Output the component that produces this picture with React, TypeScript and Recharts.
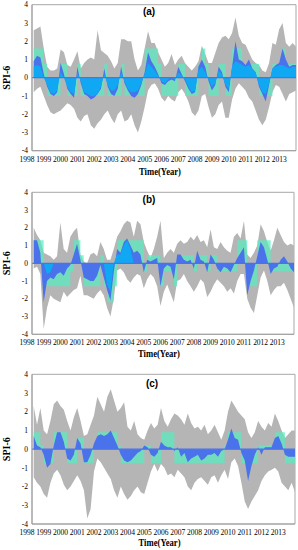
import React from 'react';
import { ComposedChart, Area, XAxis, YAxis, ReferenceLine, ReferenceArea } from 'recharts';

// time axis (decimal year), every 0.2 yr
const TIMES = [
  1998.4, 1998.6, 1998.8, 1999.0, 1999.2, 1999.4, 1999.6, 1999.8, 2000.0, 2000.2,
  2000.4, 2000.6, 2000.8, 2001.0, 2001.2, 2001.4, 2001.6, 2001.8, 2002.0, 2002.2,
  2002.4, 2002.6, 2002.8, 2003.0, 2003.2, 2003.4, 2003.6, 2003.8, 2004.0, 2004.2,
  2004.4, 2004.6, 2004.8, 2005.0, 2005.2, 2005.4, 2005.6, 2005.8, 2006.0, 2006.2,
  2006.4, 2006.6, 2006.8, 2007.0, 2007.2, 2007.4, 2007.6, 2007.8, 2008.0, 2008.2,
  2008.4, 2008.6, 2008.8, 2009.0, 2009.2, 2009.4, 2009.6, 2009.8, 2010.0, 2010.2,
  2010.4, 2010.6, 2010.8, 2011.0, 2011.2, 2011.4, 2011.6, 2011.8, 2012.0, 2012.2,
  2012.4, 2012.6, 2012.8, 2013.0, 2013.2, 2013.4, 2013.6, 2013.8, 2014.0,
];
const YEAR_TICKS = [1998, 1999, 2000, 2001, 2002, 2003, 2004, 2005, 2006, 2007, 2008, 2009, 2010, 2011, 2012, 2013];
const SPI_TICKS = [-4, -3, -2, -1, 0, 1, 2, 3, 4];

// ---------- panel (a) ----------
const A_MAX = [2.6, 2.7, 2.8, 1.6, 0.6, 0.4, 0.4, 0.5, 1.55, 1.4, 0.7, 0.6, 1.0, 1.45, 0.5, 0.8, 1.0, 1.1, 1.0, 2.6, 1.5, 1.35, 1.2, 0.9, 0.5, 0.8, 2.1, 2.1, 2.0, 2.0, 1.0, 0.4, 0.7, 1.6, 2.55, 1.9, 1.9, 1.4, 1.0, 0.6, 0.8, 1.3, 0.7, 1.0, 1.2, 0.8, 0.6, 0.4, 0.6, 0.9, 1.75, 1.3, 0.8, 0.8, 1.35, 1.9, 2.2, 2.3, 2.1, 2.45, 3.3, 2.3, 1.9, 1.8, 1.4, 1.0, 0.8, 0.7, 0.4, 0.3, 0.8, 1.9, 1.8, 2.65, 3.0, 1.9, 1.7, 1.9, 1.7];
const A_MIN = [-0.8, -0.6, -0.5, -1.0, -1.5, -1.9, -2.0, -1.9, -1.8, -1.6, -1.4, -1.5, -1.7, -2.2, -2.4, -2.1, -2.0, -2.6, -2.8, -2.5, -2.3, -2.0, -1.8, -2.2, -2.5, -2.0, -1.8, -2.4, -2.3, -2.0, -2.6, -3.0, -2.4, -1.6, -0.7, -0.4, -0.3, -0.6, -1.1, -1.3, -1.0, -1.2, -1.3, -0.8, -0.6, -0.9, -1.3, -1.9, -2.1, -1.8, -1.0, -0.9, -1.6, -2.2, -2.0, -1.5, -1.3, -2.2, -2.2, -1.2, -0.6, -0.3, -0.5, -0.7, -1.1, -1.3, -1.8, -2.3, -2.6, -2.3, -1.6, -0.8, -0.4, -0.5, -0.9, -1.3, -0.9, -0.8, -0.7];
const A_MEAN = [0.9, 1.2, 1.1, 0.2, -0.5, -0.9, -1.0, -0.8, 0.8, 0.2, -0.6, -0.9, -1.1, 0.6, -0.3, -0.9, -1.0, -1.2, -1.1, -0.9, -0.6, 0.5, -0.5, -0.9, -1.0, -0.6, 0.6, -0.3, -0.7, -1.0, -1.1, -0.9, -0.4, 0.3, 1.4, 0.9, 0.6, 0.2, -0.3, -0.4, -0.2, -0.1, -0.2, 0.6, 0.2, -0.2, -0.6, -0.9, -0.8, 0.6, 1.0, 0.6, -0.2, -0.7, -0.4, 0.6, 0.3, -0.5, -0.8, 0.6, 2.0, 1.0, 0.9, 0.7, 1.0, 0.5, 0.3, -0.5, -0.9, -1.3, -0.4, 0.5, 0.7, 0.8, 1.6, 1.0, 0.6, 0.7, 0.7];
const A_MEDIAN = [0.6, 0.7, 0.6, 0, -0.4, -0.8, -0.9, -0.7, 0.3, 0, -0.5, -0.8, -0.9, 0.3, -0.2, -0.8, -0.9, -1.0, -1.0, -0.9, -0.5, 0.2, -0.4, -0.7, -0.7, -0.4, 0.3, -0.2, -0.6, -0.8, -0.8, -0.7, -0.3, 0.2, 0.8, 0.6, 0.4, 0.1, -0.2, -0.3, -0.1, 0, -0.1, 0.3, 0.1, -0.1, -0.5, -0.8, -0.7, 0.4, 0.6, 0.3, -0.1, -0.5, -0.3, 0.4, 0.2, -0.4, -0.6, 0.6, 0.9, 0.8, 0.7, 0.6, 0.7, 0.5, 0.3, -0.4, -0.8, -0.9, -0.3, 0.5, 0.6, 0.7, 0.7, 0.6, 0.5, 0.6, 0.6];
const A_CLASS = [1.6, 1.6, 1.6, 0.75, -1.0, -1.0, -1.0, -1.0, 0.75, 0.75, -1.0, -1.0, -1.0, 0.75, -1.0, -1.0, -1.0, -1.0, -1.0, -1.0, -1.0, 0.75, -1.0, -1.0, -1.0, -1.0, 0.75, -1.0, -1.0, -1.0, -1.0, -1.0, -1.0, 1.6, 1.6, 1.6, 1.6, 0.75, -1.0, -1.0, -1.0, -1.0, -1.0, 0.75, 0.75, -1.0, -1.0, -1.0, -1.0, 0.75, 1.6, 0.75, -1.0, -1.0, -1.0, 0.75, 0.75, -1.0, -1.0, 1.6, 1.6, 1.6, 0.75, 0.75, 0.75, 0.75, 0.75, -1.0, -1.0, -1.0, -1.0, 0.75, 0.75, 0.75, 1.6, 0.75, 0.75, 0.75, 0.75];

// ---------- panel (b) ----------
const B_MAX = [2.0, 1.6, 1.3, 0.6, 0.5, 0.4, 0.2, 0.4, 2.3, 0.8, 0.6, 1.5, 1.8, 2.0, 0.5, 0.1, 0.0, 0.5, 0.6, 0.4, 1.2, 0.8, 0.2, 0.2, 0.8, 1.5, 1.8, 2.2, 2.4, 2.3, 1.5, 2.4, 2.2, 1.2, 0.7, 0.3, 0.8, 1.5, 2.4, 0.3, 0.6, 0.8, 0.6, 1.1, 1.3, 1.1, 1.2, 1.5, 1.3, 1.6, 1.2, 1.3, 0.9, 1.9, 0.9, 0.8, 1.2, 0.9, 0.7, 0.6, 1.5, 1.7, 1.4, 2.4, 0.5, 0.3, 0.6, 1.0, 2.2, 1.8, 1.2, 0.7, 1.3, 2.0, 1.6, 1.2, 1.0, 1.1, 1.0];
const B_MIN = [-0.3, -0.2, -0.6, -3.7, -2.5, -1.8, -2.0, -2.1, -2.2, -1.6, -1.9, -1.7, -1.5, -1.4, -0.7, -1.8, -1.8, -1.9, -2.0, -1.7, -1.5, -1.8, -2.5, -3.0, -2.0, -0.4, -0.3, -0.5, -0.9, -1.1, -0.8, -0.6, -0.7, -1.4, -0.9, -0.6, -0.8, -1.3, -2.4, -1.6, -1.2, -1.7, -2.2, -1.0, -0.9, -0.6, -1.0, -1.3, -1.6, -1.3, -0.9, -1.1, -1.9, -1.6, -1.2, -0.9, -1.1, -1.3, -1.6, -1.4, -1.7, -1.0, -0.6, -0.6, -2.0, -2.5, -2.8, -1.8, -0.8, -0.4, -1.0, -1.8, -1.5, -1.3, -1.3, -1.1, -1.5, -2.0, -2.5];
const B_MEAN = [1.3, 1.3, 0.6, -2.2, -1.0, -0.8, -0.9, -0.6, -0.5, -0.7, -0.3, -0.1, 0.5, 1.1, 0.2, -0.8, -0.9, -1.0, -1.0, -0.7, -0.1, -0.8, -1.5, -2.1, -0.5, 0.8, 0.6, 1.2, 1.4, 1.0, 0.6, 0.7, 0.5, -0.5, 0.2, 0.1, 0.2, 0.3, -1.3, -0.3, -0.1, -0.2, -0.9, 0.5, 0.5, 0.2, 0.1, 0.2, -0.3, 0.7, 0.2, 0.1, -0.5, 0.5, 0.2, -0.3, -0.5, -0.2, -0.3, -0.5, -0.1, 0.3, 0.6, 0.9, -1.8, -1.0, -0.4, 0.4, 1.2, 0.9, 0.2, -0.6, -0.3, -0.2, 0.2, 0.4, 0.1, -0.3, -0.5];
const B_MEDIAN = [0, 0, 0, 0, -0.6, -0.5, 0, 0, 0, 0, 0, 0, 0, 0, 0, 0, 0, 0, 0, 0, 0, 0, -1.2, -1.6, 0, 0.5, 0.5, 1.0, 1.3, 0.8, 0, 0, 0, 0, 0, 0, 0, 0, 0, 0, 0, 0, 0, 0, 0, 0, 0, 0, 0, 0, 0, 0, 0, 0, 0, 0, 0, 0, 0, 0, 0, 0, 0, 0, 0, 0, 0, 0, 0, 0, 0, 0, 0, 0, 0, 0, 0, 0, 0];
const B_CLASS = [1.3, 1.3, 1.3, -1.3, -1.3, -1.3, -1.3, -1.3, -1.3, -1.3, -1.3, -0.45, 1.3, 1.3, 0.45, -1.3, -1.3, -1.3, -1.3, -1.3, 0.45, -1.3, -2.2, -2.2, -1.3, 1.3, 1.3, 1.3, 1.3, 1.3, 1.3, 1.3, 1.3, -0.45, 0.45, 0.45, 0.45, 0.45, -1.3, -0.45, -0.45, -0.45, -1.3, 0.45, 0.45, 0.45, 0.45, 0.45, -0.45, 0.45, 0.45, 0.45, -0.45, 0.45, 0.45, -0.45, -0.45, -0.45, -0.45, -0.45, -0.45, 1.3, 1.3, 1.3, -1.3, -1.3, -1.3, 1.3, 1.3, 1.3, 1.3, -0.45, -0.45, -0.45, -0.45, -0.45, -0.45, -0.45, -0.45];

// ---------- panel (c) ----------
const C_MAX = [2.3, 1.3, 2.2, 1.0, 0.8, 1.5, 2.4, 2.6, 2.3, 2.1, 1.5, 1.0, 1.7, 2.2, 1.5, 0.7, 0.8, 1.3, 1.8, 2.8, 2.4, 2.0, 2.8, 3.2, 2.6, 2.0, 2.2, 2.5, 1.2, 1.0, 1.5, 0.8, 0.6, 0.5, 1.0, 1.4, 1.1, 1.3, 2.2, 1.5, 1.2, 1.6, 1.9, 1.8, 1.6, 1.3, 1.9, 1.4, 1.1, 1.2, 1.0, 1.3, 0.8, 1.0, 1.3, 0.9, 0.5, 1.0, 2.0, 2.6, 2.3, 2.0, 1.8, 1.6, 0.9, 0.6, 0.9, 1.5, 1.2, 1.0, 1.4, 1.2, 1.9, 1.5, 1.0, 0.6, 0.8, 1.0, 1.0];
const C_MIN = [-1.5, -1.8, -2.0, -2.4, -2.6, -1.8, -1.3, -1.1, -1.4, -1.9, -2.2, -2.0, -1.7, -1.4, -1.7, -2.2, -3.7, -3.2, -1.2, -0.5, -0.7, -1.0, -1.3, -1.6, -2.2, -2.6, -2.0, -2.4, -2.7, -2.5, -2.2, -2.0, -2.3, -2.4, -1.8, -1.2, -0.8, -1.2, -0.8, -1.0, -1.4, -1.3, -1.5, -1.1, -1.3, -1.5, -2.0, -2.2, -1.8, -1.6, -1.5, -1.7, -1.9, -1.5, -1.4, -1.8, -1.4, -1.1, -1.6, -0.7, -0.5, -0.9, -1.8, -2.8, -3.2, -2.8, -2.5, -2.2, -1.7, -1.4, -1.2, -1.1, -1.0, -1.2, -1.8, -2.0, -2.2, -1.8, -2.3];
const C_MEAN = [0.7, 0.2, 0.1, -0.3, -1.0, -0.8, 0.2, 0.9, 0.9, 0.4, -0.5, -0.6, -0.3, 0.6, 0.3, -0.7, -0.7, -0.3, 0.3, 0.7, 0.8, 0.7, 0.8, 1.0, 0.6, 0.2, -0.3, -0.6, -0.7, -0.6, -0.4, -0.2, -0.1, 0.2, 0.1, -0.3, -0.4, -0.2, 0.4, 0.2, 0.1, 0.1, -0.1, 0.1, -0.4, -0.2, -0.7, -0.5, -0.4, -0.3, -0.6, -0.5, -0.3, -0.3, -0.2, -0.4, -0.1, 0.0, 0.5, 1.1, 0.6, 0.5, -0.2, -0.6, -1.7, -0.9, -0.3, 0.1, -0.3, 0.1, 0.1, 0.1, 0.6, 0.7, 0.3, -0.3, -0.4, -0.4, -0.4];
const C_CLASS = [0.9, 0.9, 0.2, -0.75, -0.75, -0.75, 0.9, 0.9, 0.9, 0.9, -0.75, -0.75, -0.75, 0.6, 0.6, -0.75, -0.75, -0.75, 0.2, 0.9, 0.9, 0.9, 0.9, 0.9, 0.9, 0.2, -0.75, -0.75, -0.75, -0.75, -0.75, -0.75, -0.75, 0.2, 0.2, -0.75, -0.75, -0.75, 0.9, 0.9, 0.9, 0.9, -0.75, -0.75, -0.75, -0.75, -0.75, -0.75, -0.75, -0.75, -0.75, -0.75, -0.75, -0.75, -0.75, -0.75, -0.75, 0.2, 0.9, 0.9, 0.9, 0.9, -0.75, -0.75, -0.75, -0.75, -0.75, 0.2, 0.2, 0.2, 0.2, 0.2, 0.9, 0.9, 0.9, -0.75, -0.75, -0.75, -0.75];

const GRAY = '#b5b5b5';
const TURQ = '#55eebf';
const ROYAL = '#4a72ea';
const SKY = '#10a8f2';
const SERIF = '"Liberation Serif", "Times New Roman", serif';

function build(max: number[], min: number[], mean: number[], median: number[] | null, cls: number[]) {
  return TIMES.map((t, i) => ({
    t,
    range: [min[i], max[i]],
    cls: [Math.min(0, cls[i]), Math.max(0, cls[i])],
    mean: mean[i],
    median: median ? median[i] : 0,
  }));
}

const XTick = (props: any) => {
  const { x, y, payload } = props;
  return (
    <text x={x} y={y + 11} textAnchor="middle" fontSize={7.5} fontFamily={SERIF} fill="#000">
      {payload.value}
    </text>
  );
};
const YTick = (props: any) => {
  const { x, y, payload } = props;
  return (
    <text x={x - 4} y={y + 2.7} textAnchor="end" fontSize={7.5} fontFamily={SERIF} fill="#000">
      {payload.value}
    </text>
  );
};

type PanelProps = {
  top: number;
  plotTop: number;
  plotBottom: number;
  axisH: number;
  right: number;
  data: any[];
  letter: string;
  letterX: number;
  letterY: number;
  xLabelDy: number;
  showMedian: boolean;
};

function Panel(p: PanelProps) {
  const height = p.plotBottom + p.axisH;
  return (
    <div style={{ position: 'absolute', left: 0, top: p.top, width: 298, height }}>
      <ComposedChart
        width={298}
        height={height}
        data={p.data}
        margin={{ top: p.plotTop, right: p.right, bottom: 0, left: 0 }}
      >
        <XAxis
          dataKey="t"
          type="number"
          domain={[1998.3, 2014.0]}
          allowDataOverflow
          ticks={YEAR_TICKS}
          interval={0}
          tick={<XTick />}
          tickLine={false}
          tickSize={0}
          tickMargin={0}
          height={p.axisH}
          axisLine={{ stroke: '#a0a0a0' }}
          label={(lp: any) => {
            const vb = lp.viewBox || {};
            return (
              <text
                x={vb.x + vb.width / 2 - 4}
                y={vb.y + p.xLabelDy}
                textAnchor="middle"
                fontSize={10}
                fontWeight="bold"
                fontFamily={SERIF}
                textLength={42}
                lengthAdjust="spacingAndGlyphs"
                fill="#000"
              >
                Time(Year)
              </text>
            );
          }}
        />
        <YAxis
          type="number"
          domain={[-4, 4]}
          allowDataOverflow
          ticks={SPI_TICKS}
          interval={0}
          tick={<YTick />}
          tickLine={false}
          tickSize={0}
          tickMargin={0}
          width={32}
          axisLine={{ stroke: '#a0a0a0' }}
          label={(lp: any) => {
            const vb = lp.viewBox || {};
            const cy = vb.y + vb.height / 2;
            return (
              <text
                x={10}
                y={cy}
                transform={`rotate(-90 10 ${cy})`}
                textAnchor="middle"
                fontSize={10}
                fontWeight="bold"
                fontFamily={SERIF}
                textLength={24}
                lengthAdjust="spacingAndGlyphs"
                fill="#000"
              >
                SPI-6
              </text>
            );
          }}
        />
        <ReferenceArea x1={1998.3} x2={2014.0} y1={-4} y2={4} fill="none" stroke="#a8a8a8" ifOverflow="visible" />
        <Area dataKey="range" type="linear" fill={GRAY} fillOpacity={1} stroke="none" isAnimationActive={false} />
        <Area dataKey="cls" type="stepAfter" fill={TURQ} fillOpacity={0.7} stroke="none" isAnimationActive={false} />
        <Area dataKey="mean" type="linear" baseValue={0} fill={ROYAL} fillOpacity={1} stroke="none" isAnimationActive={false} />
        {p.showMedian && (
          <Area dataKey="median" type="linear" baseValue={0} fill={SKY} fillOpacity={1} stroke="none" isAnimationActive={false} />
        )}
        <ReferenceLine y={0} stroke={ROYAL} strokeWidth={1.2} />
      </ComposedChart>
      <div
        style={{
          position: 'absolute',
          left: p.letterX,
          top: p.letterY,
          transform: 'translate(-50%, -50%)',
          fontFamily: '"Liberation Sans", Arial, sans-serif',
          fontWeight: 'bold',
          fontSize: 10,
          lineHeight: '10px',
          color: '#000',
          whiteSpace: 'nowrap',
        }}
      >
        {p.letter}
      </div>
    </div>
  );
}

export default function App() {
  const dataA = build(A_MAX, A_MIN, A_MEAN, A_MEDIAN, A_CLASS);
  const dataB = build(B_MAX, B_MIN, B_MEAN, B_MEDIAN, B_CLASS);
  const dataC = build(C_MAX, C_MIN, C_MEAN, null, C_CLASS);
  return (
    <div style={{ position: 'absolute', left: 0, top: 0, width: 298, height: 550, background: '#fff', overflow: 'hidden' }}>
      <Panel top={0} plotTop={4.7} plotBottom={150.7} axisH={30} right={2} data={dataA} letter="(a)" letterX={149} letterY={12} xLabelDy={24} showMedian />
      <Panel top={180} plotTop={12.3} plotBottom={154.3} axisH={30} right={4} data={dataB} letter="(b)" letterX={149} letterY={20} xLabelDy={23} showMedian />
      <Panel top={360} plotTop={14.3} plotBottom={164} axisH={26} right={3} data={dataC} letter="(c)" letterX={152} letterY={24} xLabelDy={22} showMedian={false} />
    </div>
  );
}
